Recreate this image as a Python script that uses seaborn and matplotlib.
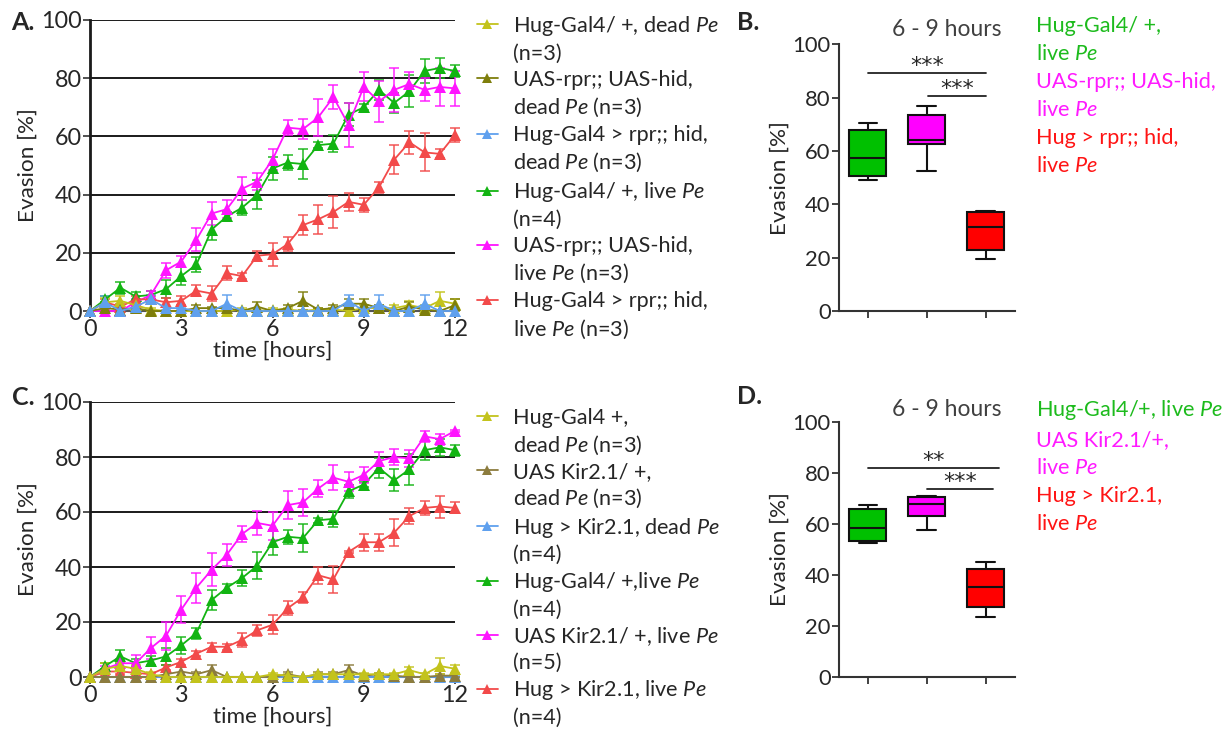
import numpy as np
import pandas as pd
import matplotlib
matplotlib.use("Agg")
import matplotlib.pyplot as plt
import seaborn as sns
from matplotlib.lines import Line2D

# ---------------- data ----------------
time_h = [0, 0.5, 1, 1.5, 2, 2.5, 3, 3.5, 4, 4.5, 5, 5.5, 6, 6.5, 7, 7.5, 8, 8.5,
          9, 9.5, 10, 10.5, 11, 11.5, 12]

# Panel A (rpr;; hid)
A_yellow = [0, 3, 3.5, 2, 0.5, 0, 0, 0, 0, 0, 0.5, 0, 0.5, 0.5, 0, 0.5, 0.5, 0, 1, 1, 1, 2, 1, 3.5, 2.5]
A_yellow_err = [0, 1.5, 1.5, 1.5, 0.5, 0, 0, 0, 0, 0, 0.5, 0, 0.5, 0.5, 0, 0.5, 0.5, 0, 1, 1, 1, 1.5, 1, 3, 1.5]
A_olive = [0, 1, 0.5, 1, 0, 0, 0, 1, 1, 1, 0, 1.5, 0, 1, 3.5, 0.5, 1, 2.5, 2.5, 1, 0, 1.5, 0.5, 0, 2]
A_olive_err = [0, 1, 0.5, 1, 0, 0, 0, 1, 0.5, 0.5, 0, 1.5, 0, 1, 3, 0.5, 1, 1.5, 1.5, 1, 0, 1.5, 0.5, 0, 2]
A_blue = [0, 3, 0, 1.5, 4, 1, 1, 0, 0, 2.5, 0, 0, 0, 0, 0, 0, 0, 3.5, 0, 2.5, 0, 0, 2.5, 0, 0]
A_blue_err = [0, 2, 0, 1.5, 1.5, 0.5, 0.5, 0, 0, 3, 0, 0, 0, 0, 0, 0, 0, 2, 0, 3, 0, 0, 3, 0, 0]
A_green = [0, 4, 8, 5, 5.5, 7.5, 12, 16, 28, 32.5, 35.5, 40, 49, 51, 50.5, 57, 57.5, 67.5, 70, 76, 71.5, 75.5, 82.5, 83.5, 82.5]
A_green_err = [0, 1, 2, 1.5, 1.5, 3, 3, 2.5, 3.5, 1.5, 2.5, 5, 4, 2.5, 5, 1, 3, 4, 1, 3.5, 3.5, 5.5, 4, 3.5, 2]
A_magenta = [0, 0, 0, 3, 5.5, 14, 17, 24.5, 33.5, 35, 42, 44.5, 52, 63, 62.5, 66.5, 73.5, 64, 77, 72, 76, 78, 76, 77, 76.5]
A_magenta_err = [0, 0.5, 0.5, 1, 1.5, 2.5, 2, 4, 4, 3, 4, 3, 3.5, 2.5, 3.5, 6.5, 4, 7.5, 5, 7, 7.5, 4, 4, 6.5, 6]
A_red = [0, 3, 1.5, 4, 4, 3, 3.5, 7, 6, 13, 12, 19, 19.5, 23, 29.5, 31.5, 34, 37.5, 36.5, 42.5, 52, 58, 54.5, 54, 60.5]
A_red_err = [0, 1, 1, 1, 1, 1.5, 1.5, 2, 2.5, 2.5, 1, 1.5, 4, 2.5, 3.5, 5, 5.5, 3, 2.5, 2, 5, 4, 6.5, 1.5, 2.5]

# Panel C (Kir2.1)
C_yellow = [0, 3, 4, 3, 1, 0, 0, 0, 0, 0, 0, 0, 1, 0.5, 0, 1, 1, 1, 1, 1, 1, 2.5, 1, 4, 3]
C_yellow_err = [0, 2, 1.5, 1.5, 1, 0, 0, 0, 0, 0, 0, 0, 0.5, 0.5, 0, 0.5, 0.5, 0.5, 0.5, 0.5, 0.5, 1, 0.5, 3, 1.5]
C_olive = [0, 0, 0, 0, 0, 1, 2, 1, 2.5, 0, 0, 0, 0, 1, 0, 1, 1, 2.5, 0.5, 1, 0.5, 0, 0, 0.5, 0.5]
C_olive_err = [0, 0, 0, 0, 0, 1, 1.5, 1, 2, 0, 0, 0, 0, 1, 0, 1, 1, 2, 0.5, 0.5, 0.5, 0, 0, 0.5, 0.5]
C_blue = [0, 0, 0, 0, 0, 0, 0, 0, 0, 0, 0, 0, 0, 0, 0, 0, 0, 0, 0, 0, 0, 0, 0, 0, 0]
C_blue_err = [0, 0, 0, 0, 0, 0, 0, 0, 0, 0, 0, 0, 0, 0, 0, 0.5, 0, 0, 0, 0, 0, 0, 0, 0.5, 0.5]
C_green = [0, 4, 7.5, 5, 6, 7.5, 11.5, 16, 28, 32.5, 36, 40.5, 49, 51, 50.5, 57, 57.5, 67.5, 70, 76, 71.5, 75.5, 82.5, 83.5, 82.5]
C_green_err = [0, 1, 2.5, 1.5, 1.5, 3, 3, 2, 3.5, 1.5, 3, 5, 4.5, 2.5, 5, 1, 3, 2.5, 1, 3.5, 4, 5.5, 3.5, 3, 2]
C_magenta = [0, 3, 5, 5, 10.5, 15, 24.5, 32.5, 39, 44.5, 52, 56, 55, 62.5, 63.5, 68.5, 72.5, 71, 73.5, 78.5, 80, 79.5, 87.5, 86.5, 89.5]
C_magenta_err = [0, 1, 1.5, 3, 4, 5, 5, 5.5, 6, 4, 3, 4.5, 5, 5, 5, 3, 4.5, 3.5, 3, 3.5, 3, 3, 2, 2, 0.5]
C_red = [0, 2, 2, 1.5, 1, 3.5, 5.5, 8.5, 11, 11, 13.5, 17, 19, 25, 29, 37, 35.5, 45.5, 49, 49, 52.5, 58.5, 61.5, 62, 61.5]
C_red_err = [0, 1, 1, 1, 0.5, 1, 1, 1, 1.5, 1, 2.5, 2, 3.5, 2.5, 2, 3, 5, 0.5, 3, 3, 5, 3, 2.5, 4, 2]

A_names = ["Hug-Gal4/ +, dead Pe", "UAS-rpr;; UAS-hid, dead Pe", "Hug-Gal4 > rpr;; hid, dead Pe",
           "Hug-Gal4/ +, live Pe", "UAS-rpr;; UAS-hid, live Pe", "Hug-Gal4 > rpr;; hid, live Pe"]
A_legend_lines = [("Hug-Gal4/ +, dead $\\mathit{Pe}$", "(n=3)"),
                  ("UAS-rpr;; UAS-hid,", "dead $\\mathit{Pe}$ (n=3)"),
                  ("Hug-Gal4 > rpr;; hid,", "dead $\\mathit{Pe}$ (n=3)"),
                  ("Hug-Gal4/ +, live $\\mathit{Pe}$", "(n=4)"),
                  ("UAS-rpr;; UAS-hid,", "live $\\mathit{Pe}$ (n=3)"),
                  ("Hug-Gal4 > rpr;; hid,", "live $\\mathit{Pe}$ (n=3)")]
C_names = ["Hug-Gal4 +, dead Pe", "UAS Kir2.1/ +, dead Pe", "Hug > Kir2.1, dead Pe",
           "Hug-Gal4/ +, live Pe", "UAS Kir2.1/ +, live Pe", "Hug > Kir2.1, live Pe"]
C_legend_lines = [("Hug-Gal4 +,", "dead $\\mathit{Pe}$ (n=3)"),
                  ("UAS Kir2.1/ +,", "dead $\\mathit{Pe}$ (n=3)"),
                  ("Hug > Kir2.1, dead $\\mathit{Pe}$", "(n=4)"),
                  ("Hug-Gal4/ +,live $\\mathit{Pe}$", "(n=4)"),
                  ("UAS Kir2.1/ +, live $\\mathit{Pe}$", "(n=5)"),
                  ("Hug > Kir2.1, live $\\mathit{Pe}$", "(n=4)")]

# Box plot summaries (min, q1, median, q3, max) for 6-9 hours
box_groups = ["control Gal4", "control UAS", "experimental"]
B_green = [49, 50.5, 57.5, 68, 70.5]
B_magenta = [52.5, 62.5, 64, 73.5, 77]
B_red = [19.5, 23, 31.5, 37, 37.5]
D_green = [52.3, 53.3, 58.2, 65.6, 67.3]
D_magenta = [57.5, 63.1, 67.7, 70.3, 70.8]
D_red = [23.5, 27.5, 35, 42.2, 44.8]
B_legend = [("Hug-Gal4/ +,", "g"), ("live $\\mathit{Pe}$", "g"),
            ("UAS-rpr;; UAS-hid,", "m"), ("live $\\mathit{Pe}$", "m"),
            ("Hug > rpr;; hid,", "r"), ("live $\\mathit{Pe}$", "r")]
D_legend = [("Hug-Gal4/+, live $\\mathit{Pe}$", "g"),
            ("UAS Kir2.1/+,", "m"), ("live $\\mathit{Pe}$", "m"),
            ("Hug > Kir2.1,", "r"), ("live $\\mathit{Pe}$", "r")]
# significance brackets: (x_start, x_end, y, label)
B_sig = [(0, 2, 89.2, "***"), (1.02, 2, 80.6, "***")]
D_sig = [(0, 2.22, 81.8, "**"), (1.01, 2.13, 73.6, "***")]

# ---------------- style ----------------
sns.set_style("ticks")
plt.rcParams["font.family"] = ["Lato", "DejaVu Sans"]
plt.rcParams["mathtext.fontset"] = "custom"
plt.rcParams["mathtext.it"] = "Lato:italic"
plt.rcParams["mathtext.rm"] = "Lato"
plt.rcParams["mathtext.bf"] = "Lato:bold"
TXT = "#262626"

col_yellow = "#C3C31C"
col_olive_A = "#7E7E0C"
col_olive_C = "#8C7C3E"
col_blue = "#5FA0EE"
col_green = "#12B412"
col_magenta = "#FF14FF"
col_red = "#F24A4A"
box_cols = {"g": "#1DBB1D", "m": "#FF1AFF", "r": "#FF1414"}
box_fill = ["#00C000", "#FF00FF", "#FF0000"]

W, H = 1230, 734
fig = plt.figure(figsize=(W / 100, H / 100), dpi=100)
fig.patch.set_facecolor("white")


def fx(px):
    return px / W


def fy(py):
    return 1 - py / H


axA = fig.add_axes([fx(90), fy(311), fx(365), 291 / H])
axC = fig.add_axes([fx(90), fy(677), fx(365), 275 / H])
axB = fig.add_axes([fx(839), fy(311), fx(176), 266.7 / H])
axD = fig.add_axes([fx(839), fy(676.7), fx(176), 255 / H])

LEG_FS = 15.6


def line_panel(ax, names, series, errs, colors, draw_order, legend_lines, leg_top, leg_space):
    frames = [pd.DataFrame({"time": time_h, "evasion": s, "group": n}) for n, s in zip(names, series)]
    df = pd.concat(frames, ignore_index=True)
    pal = dict(zip(names, colors))
    order = [names[i] for i in draw_order]
    for i in draw_order:
        e = np.array(errs[i], dtype=float)
        m = e > 0
        ax.errorbar(np.array(time_h)[m], np.array(series[i])[m], yerr=e[m], fmt="none",
                    ecolor=colors[i], elinewidth=1.2, capsize=3.5, capthick=1.2,
                    alpha=0.85, clip_on=False, zorder=3)
    sns.lineplot(data=df, x="time", y="evasion", hue="group", hue_order=order, palette=pal,
                 marker="^", markersize=8, markeredgewidth=0, linewidth=1.3,
                 errorbar=None, legend=False, ax=ax, clip_on=False, zorder=4)
    ax.set_xlim(0, 12)
    ax.set_ylim(0, 100)
    ax.set_xticks([0, 3, 6, 9, 12])
    ax.set_yticks([0, 20, 40, 60, 80, 100])
    ax.yaxis.grid(True, color="#1a1a1a", linewidth=1.4, zorder=0)
    ax.xaxis.grid(False)
    ax.set_axisbelow(True)
    for s in ["top", "right"]:
        ax.spines[s].set_visible(False)
    ax.spines["left"].set_color("#1a1a1a")
    ax.spines["left"].set_linewidth(2)
    ax.spines["bottom"].set_color("#555555")
    ax.spines["bottom"].set_linewidth(1.5)
    ax.tick_params(axis="both", direction="out", length=5, width=1.2, labelsize=16.8,
                   colors="#333333", labelcolor=TXT, pad=1)
    ax.set_xlabel("time [hours]", fontsize=16.2, color=TXT, labelpad=0)
    ax.set_ylabel("Evasion [%]", fontsize=16.2, color=TXT, labelpad=2)
    # legend: two rows per group, marker on the first row
    handles, labels = [], []
    for c, (l1, l2) in zip(colors, legend_lines):
        handles.append(Line2D([0], [0], color=c, marker="^", markersize=7, markeredgewidth=0, lw=1.3))
        labels.append(l1)
        handles.append(Line2D([0], [0], color="none", lw=0))
        labels.append(l2)
    ax.legend(handles, labels, loc="upper left", bbox_to_anchor=(fx(477), fy(leg_top)),
              bbox_transform=fig.transFigure, frameon=False, fontsize=LEG_FS,
              handlelength=0.95, handletextpad=0.7, labelspacing=leg_space,
              borderpad=0, borderaxespad=0, labelcolor=TXT)


line_panel(axA, A_names,
           [A_yellow, A_olive, A_blue, A_green, A_magenta, A_red],
           [A_yellow_err, A_olive_err, A_blue_err, A_green_err, A_magenta_err, A_red_err],
           [col_yellow, col_olive_A, col_blue, col_green, col_magenta, col_red],
           [3, 4, 5, 0, 1, 2], A_legend_lines, 14, 0.275)
line_panel(axC, C_names,
           [C_yellow, C_olive, C_blue, C_green, C_magenta, C_red],
           [C_yellow_err, C_olive_err, C_blue_err, C_green_err, C_magenta_err, C_red_err],
           [col_yellow, col_olive_C, col_blue, col_green, col_magenta, col_red],
           [5, 3, 4, 2, 1, 0], C_legend_lines, 408, 0.245)


def box_panel(ax, stats, legend, sig, title_y, leg_top):
    frames = [pd.DataFrame({"group": g, "value": v}) for g, v in zip(box_groups, stats)]
    df = pd.concat(frames, ignore_index=True)
    sns.boxplot(data=df, x="group", y="value", hue="group", order=box_groups, hue_order=box_groups,
                palette=dict(zip(box_groups, box_fill)), whis=(0, 100), width=0.63, saturation=1,
                linewidth=1.5, linecolor="#111111", showfliers=False, legend=False, ax=ax)
    ax.set_xlim(-0.49, 2.5)
    ax.set_ylim(0, 100)
    ax.set_yticks([0, 20, 40, 60, 80, 100])
    ax.set_xticks([0, 1, 2])
    ax.set_xticklabels([])
    ax.set_xlabel("")
    ax.set_ylabel("Evasion [%]", fontsize=16.2, color=TXT, labelpad=2)
    for s in ["top", "right"]:
        ax.spines[s].set_visible(False)
    for s in ["left", "bottom"]:
        ax.spines[s].set_color("#333333")
        ax.spines[s].set_linewidth(1.5)
    ax.tick_params(axis="both", direction="out", length=5, width=1.3, labelsize=15.8,
                   colors="#333333", labelcolor=TXT, pad=1)
    for x0, x1, y, lab in sig:
        ax.plot([x0, x1], [y, y], color="#222222", lw=1.3, clip_on=False)
        ax.text((x0 + x1) / 2, y - 1.2, lab, ha="center", va="bottom", fontsize=16,
                color=TXT, family="DejaVu Sans")
    fig.text(fx(947), fy(title_y), "6 - 9 hours", ha="center", va="center", fontsize=16.5, color="#404040")
    handles = [Line2D([0], [0], color="none", lw=0) for _ in legend]
    labels = [t for t, _ in legend]
    ax.legend(handles, labels, loc="upper left", bbox_to_anchor=(fx(1036), fy(leg_top)),
              bbox_transform=fig.transFigure, frameon=False, fontsize=LEG_FS, handlelength=0,
              handletextpad=0, labelspacing=0.37, borderpad=0, borderaxespad=0,
              labelcolor=[box_cols[c] for _, c in legend])


box_panel(axB, [B_green, B_magenta, B_red], B_legend, B_sig, 30, 16)
box_panel(axD, [D_green, D_magenta, D_red], D_legend, D_sig, 410, 398)

# panel letters
for lab, x, y in [("A.", 11, 23), ("B.", 737, 23), ("C.", 12, 397), ("D.", 737, 396)]:
    fig.text(fx(x), fy(y), lab, fontsize=18, fontweight="bold", color=TXT, ha="left", va="center")

fig.savefig("out.png", dpi=100, facecolor="white")
